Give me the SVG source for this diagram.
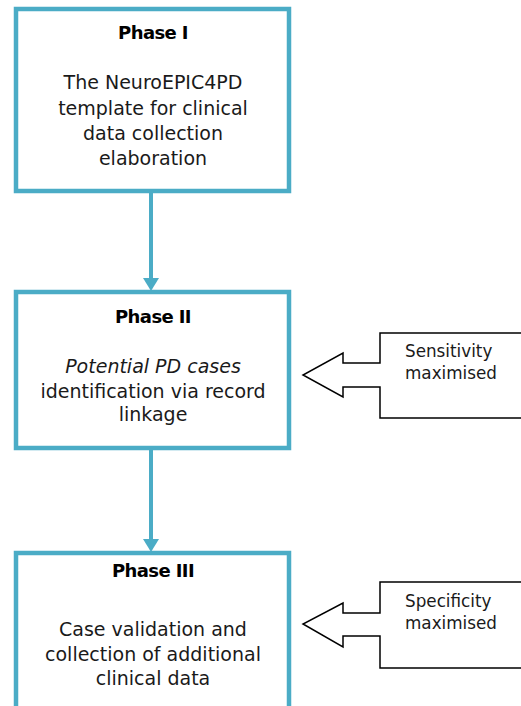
<svg xmlns="http://www.w3.org/2000/svg" width="521" height="706" viewBox="0 0 521 706">
<style>
.box{fill:#ffffff;stroke:#4bacc6;stroke-width:4.5}
.conn{stroke:#4bacc6;stroke-width:4;fill:none}
.head{fill:#4bacc6}
.callout{fill:#ffffff;stroke:#000000;stroke-width:1.5;stroke-linejoin:miter}
.t{font-family:"DejaVu Sans","Liberation Sans",sans-serif;font-size:19px;fill:#1a1a1a;text-anchor:middle}
.h{font-family:"DejaVu Sans","Liberation Sans",sans-serif;font-size:18px;font-weight:bold;fill:#000;text-anchor:middle;letter-spacing:-0.6px}
.c{font-family:"DejaVu Sans","Liberation Sans",sans-serif;font-size:16.8px;fill:#1a1a1a}
</style>
<rect width="521" height="706" fill="#ffffff"/>
<g id="connectors">
<line class="conn" x1="151" y1="192" x2="151" y2="280"/>
<polygon class="head" points="143,278 159,278 151,291"/>
<line class="conn" x1="151" y1="449" x2="151" y2="541"/>
<polygon class="head" points="143,539 159,539 151,552"/>
</g>
<g id="phase1">
<rect class="box" x="16" y="9" width="273" height="182"/>
<text class="h" x="153" y="39">Phase I</text>
<text class="t" x="153" y="89">The NeuroEPIC4PD</text>
<text class="t" x="153" y="115">template for clinical</text>
<text class="t" x="153" y="140">data collection</text>
<text class="t" x="153" y="165">elaboration</text>
</g>
<g id="phase2">
<rect class="box" x="16" y="292" width="273" height="156"/>
<text class="h" x="153" y="323">Phase II</text>
<text class="t" x="153" y="373" font-style="italic">Potential PD cases</text>
<text class="t" x="153" y="398">identification via record</text>
<text class="t" x="153" y="421">linkage</text>
</g>
<g id="phase3">
<rect class="box" x="16" y="553" width="273" height="170"/>
<text class="h" x="153" y="577">Phase III</text>
<text class="t" x="153" y="636">Case validation and</text>
<text class="t" x="153" y="661">collection of additional</text>
<text class="t" x="153" y="685">clinical data</text>
</g>
<g id="sensitivity">
<polygon class="callout" points="530,333 380,333 380,363 343,363 343,353 303,375 343,397 343,387 380,387 380,418 530,418"/>
<text class="c" x="405" y="357">Sensitivity</text>
<text class="c" x="405" y="379">maximised</text>
</g>
<g id="specificity">
<polygon class="callout" points="530,582 380,582 380,613 343,613 343,603 303,624 343,647 343,636 380,636 380,668 530,668"/>
<text class="c" x="405" y="607">Specificity</text>
<text class="c" x="405" y="629">maximised</text>
</g>
</svg>
